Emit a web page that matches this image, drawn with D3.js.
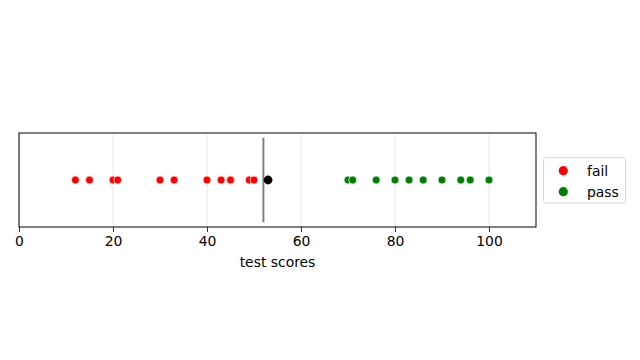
<!DOCTYPE html>
<html><head><meta charset="utf-8">
<script src="https://cdn.jsdelivr.net/npm/d3@7"></script>
<style>body{margin:0;background:#fff}svg{display:block}text{font-family:"DejaVu Sans",sans-serif}</style>
</head><body><svg id="c" width="640" height="360"></svg>
<script>
const failScores = [12, 15, 20, 21, 30, 33, 40, 43, 45, 49, 50];
const passScores = [70, 71, 76, 80, 83, 86, 90, 94, 96, 100];
const newScore = 53;
const threshold = 52;
const xTicks = [0, 20, 40, 60, 80, 100];
const legendLabels = ["fail", "pass"];
const legendColors = ["#ff0000", "#008000"];

const svg = d3.select("#c");
const L = 19, R = 536, T = 133, B = 227;
const x = d3.scaleLinear().domain([0, 110]).range([L, R]);
const y = d3.scaleLinear().domain([-1, 1]).range([B, T]);

// grid
svg.append("g").selectAll("line").data(xTicks).join("line")
  .attr("x1", d => x(d)).attr("x2", d => x(d)).attr("y1", T).attr("y2", B)
  .attr("stroke", "#e0e0e0").attr("stroke-width", 0.8);

// threshold line (axes fraction 0.05..0.95)
svg.append("line").attr("x1", x(threshold)).attr("x2", x(threshold))
  .attr("y1", y(0.9)).attr("y2", y(-0.9))
  .attr("stroke", "#808080").attr("stroke-width", 2);

const pts = svg.append("g");
pts.selectAll("circle.f").data(failScores).join("circle").attr("class","f")
  .attr("cx", d => x(d)).attr("cy", y(0)).attr("r", 4)
  .attr("fill", legendColors[0]).attr("stroke", "#fff").attr("stroke-width", 0.7);
pts.selectAll("circle.p").data(passScores).join("circle").attr("class","p")
  .attr("cx", d => x(d)).attr("cy", y(0)).attr("r", 4)
  .attr("fill", legendColors[1]).attr("stroke", "#fff").attr("stroke-width", 0.7);
pts.append("circle").attr("cx", x(newScore)).attr("cy", y(0)).attr("r", 4.4).attr("fill", "#000");

// frame
svg.append("rect").attr("x", L).attr("y", T).attr("width", R - L).attr("height", B - T)
  .attr("fill", "none").attr("stroke", "#000").attr("stroke-width", 1);

// x axis
const ax = svg.append("g").attr("transform", `translate(0,${B})`)
  .call(d3.axisBottom(x).tickValues(xTicks).tickSize(4.9).tickPadding(4.5).tickFormat(d3.format("d")));
ax.select(".domain").remove();
ax.selectAll("line").attr("stroke", "#000").attr("stroke-width", 0.8);
ax.selectAll("text").attr("font-size", 13.9).attr("fill", "#000").attr("font-family", "DejaVu Sans");

svg.append("text").attr("x", (L + R) / 2).attr("y", 267).attr("text-anchor", "middle")
  .attr("font-size", 13.9).attr("fill", "#000").text("test scores");

// legend
const lg = svg.append("g");
lg.append("rect").attr("x", 543.5).attr("y", 157.5).attr("width", 82).attr("height", 45.5)
  .attr("rx", 2.5).attr("fill", "#fff").attr("stroke", "#d6d6d6").attr("stroke-width", 1);
legendLabels.forEach((lab, i) => {
  const cy = 170.7 + i * 21;
  lg.append("circle").attr("cx", 563.3).attr("cy", cy).attr("r", 4.6).attr("fill", legendColors[i]);
  lg.append("text").attr("x", 587).attr("y", cy + 5).attr("font-size", 13.9).attr("fill", "#000").text(lab);
});
</script></body></html>
